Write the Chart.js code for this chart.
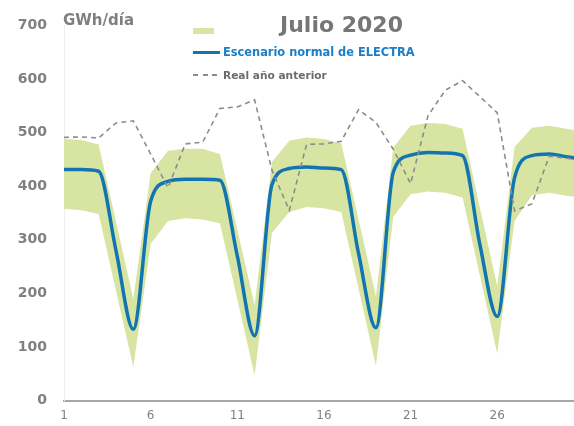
<!DOCTYPE html>
<html lang="es">
<head>
<meta charset="utf-8">
<title>Julio 2020</title>
<script src="https://cdn.jsdelivr.net/npm/chart.js@4.4.1/dist/chart.umd.min.js"></script>
<style>
  html, body { margin: 0; padding: 0; background: #fff; }
  #wrap { position: relative; width: 574px; height: 426px; font-family: "DejaVu Sans", Verdana, sans-serif; }
  #wrap canvas { position: absolute; left: 0; top: 0; }
  .txt { position: absolute; font-weight: bold; white-space: nowrap; line-height: 1; }
  .key { position: absolute; }
</style>
</head>
<body>
<div id="wrap">
  <canvas id="grafico" width="574" height="426"></canvas>

  <div class="txt" style="left:63px; top:13px; font-size:15px; color:#7f7f7f;">GWh/día</div>
  <div class="txt" style="left:280px; top:14px; font-size:22px; color:#767676;">Julio 2020</div>

  <!-- legend -->
  <div class="key" style="left:193px; top:28px; width:21px; height:6px; background:#d8e4a2;"></div>
  <div class="key" style="left:193px; top:51px; width:27px; height:3px; background:#1275b2;"></div>
  <div class="txt" style="left:223px; top:47px; font-size:11.4px; color:#1c7ec6;">Escenario normal de ELECTRA</div>
  <div class="key" style="left:193px; top:74px; width:27px; height:2px;
       background:repeating-linear-gradient(90deg, #8c8c8c 0 5px, transparent 5px 9.5px);"></div>
  <div class="txt" style="left:223px; top:70px; font-size:10.6px; color:#6b6b6b;">Real año anterior</div>
</div>

<script>
  "use strict";

  // días de julio 2020
  const dias = [1, 2, 3, 4, 5, 6, 7, 8, 9, 10, 11, 12, 13, 14, 15, 16,
                17, 18, 19, 20, 21, 22, 23, 24, 25, 26, 27, 28, 29, 30, 31];
  const diasEtiqueta = [1, 6, 11, 16, 21, 26];

  // banda de incertidumbre (GWh/día)
  const bandaSup = [488, 486, 478, 334, 190, 424, 466, 470, 470, 460, 319, 178, 445, 485, 491, 488,
                    480, 338, 195, 472, 513, 518, 516, 507, 360, 214, 473, 509, 513, 507, 502];
  const bandaInf = [358, 355, 348, 205, 62, 292, 335, 340, 338, 331, 189, 47, 313, 352, 361, 359,
                    352, 208, 65, 343, 385, 390, 388, 379, 233, 88, 335, 383, 388, 382, 378];

  // escenario normal de ELECTRA
  const escenario = [431, 431, 428, 280, 133, 372, 409, 413, 413, 411, 270, 121, 403, 433, 436, 434,
                     431, 274, 136, 426, 458, 463, 462, 457, 291, 157, 416, 457, 460, 455, 450];

  // real año anterior
  const realAnterior = [491, 492, 490, 518, 522, 460, 397, 479, 482, 545, 548, 561, 430, 355, 478, 479,
                        484, 543, 519, 469, 405, 531, 579, 597, 567, 537, 354, 367, 456, 452, 448];

  const puntos = (vals) => dias.map((d, i) => ({ x: d, y: vals[i] }));

  const ctx = document.getElementById("grafico").getContext("2d");

  new Chart(ctx, {
    type: "line",
    data: {
      datasets: [
        {
          label: "Rango",
          data: puntos(bandaSup),
          borderWidth: 0,
          pointRadius: 0,
          tension: 0,
          fill: "+1",
          backgroundColor: "#d8e4a2",
          order: 2,
        },
        {
          label: "Rango inferior",
          data: puntos(bandaInf),
          borderWidth: 0,
          pointRadius: 0,
          tension: 0,
          fill: false,
          order: 3,
        },
        {
          label: "Escenario normal de ELECTRA",
          data: puntos(escenario),
          borderColor: "#1275b2",
          borderWidth: 3.5,
          pointRadius: 0,
          cubicInterpolationMode: "monotone",
          fill: false,
          order: 1,
        },
        {
          label: "Real año anterior",
          data: puntos(realAnterior),
          borderColor: "#8c8c8c",
          borderWidth: 1.6,
          borderDash: [5, 4],
          pointRadius: 0,
          tension: 0,
          fill: false,
          order: 0,
        },
      ],
    },
    options: {
      responsive: false,
      animation: false,
      devicePixelRatio: 1,
      layout: { padding: { top: 16, right: 0, bottom: 0, left: 0 } },
      plugins: {
        legend: { display: false },
        tooltip: { enabled: false },
      },
      scales: {
        x: {
          type: "linear",
          min: 1,
          max: 30.43,
          afterBuildTicks: (scale) => {
            scale.ticks = diasEtiqueta.map((v) => ({ value: v }));
          },
          afterFit: (scale) => { scale.height = 20; },
          grid: { display: false, drawTicks: false },
          border: { color: "#a6a6a6", width: 2 },
          ticks: {
            color: "#808080",
            font: { family: "DejaVu Sans", size: 12 },
            padding: 8,
            autoSkip: false,
            maxRotation: 0,
          },
        },
        y: {
          min: 0,
          max: 700,
          afterFit: (scale) => { scale.width = 64; },
          grid: { display: false, drawTicks: false },
          border: { color: "#efefef", width: 1 },
          ticks: {
            stepSize: 100,
            color: "#808080",
            font: { family: "DejaVu Sans", size: 14, weight: "bold" },
            padding: 17,
          },
        },
      },
    },
  });
</script>
</body>
</html>
